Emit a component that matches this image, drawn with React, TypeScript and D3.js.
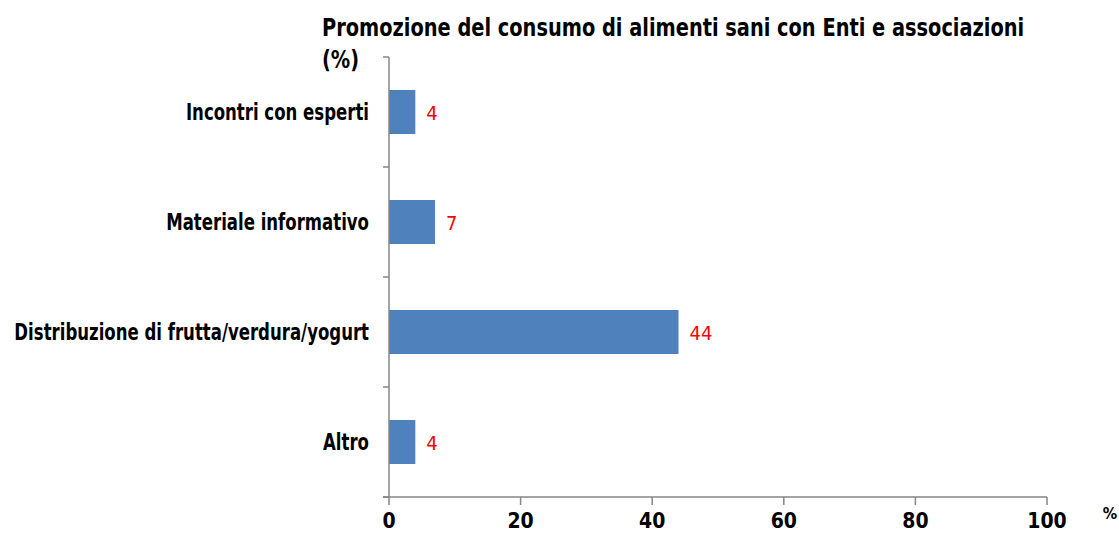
import React from "react";
import * as d3 from "d3";

const categories = [
  "Incontri con esperti",
  "Materiale informativo",
  "Distribuzione di frutta/verdura/yogurt",
  "Altro",
];
const values = [4, 7, 44, 4];
const xTicks = [0, 20, 40, 60, 80, 100];
const titleLines = ["Promozione del consumo di alimenti sani con Enti e associazioni", "(%)"];
const unitLabel = "%";

const W = 1119;
const H = 540;
const FONT = "'DejaVu Sans', sans-serif";
const SX_TITLE = 0.775;
const SX_LABEL = 0.72;

export default function App() {
  const x = d3.scaleLinear().domain([0, 100]).range([389, 1047]);
  const y = d3
    .scaleBand<string>()
    .domain(categories)
    .range([57, 497])
    .paddingInner(0.6)
    .paddingOuter(0.3);
  const step = y.step();
  const boundaries = d3.range(categories.length + 1).map((i) => 57 + i * step);
  const axisColor = "#868686";

  return (
    <svg
      width={W}
      height={H}
      style={{ position: "absolute", left: 0, top: 0, background: "#fff" }}
    >
      <g fontFamily={FONT} fontWeight="bold" fill="#000" fontSize={25}>
        <text transform={`translate(322,36) scale(${SX_TITLE},1)`}>{titleLines[0]}</text>
        <text transform={`translate(322,68) scale(${SX_TITLE},1)`}>{titleLines[1]}</text>
      </g>

      {categories.map((c, i) => {
        const yc = (y(c) as number) + y.bandwidth() / 2;
        return (
          <g key={c}>
            <rect
              x={x(0)}
              y={y(c)}
              width={x(values[i]) - x(0)}
              height={y.bandwidth()}
              fill="#4F81BD"
            />
            <text
              transform={`translate(369,${yc + 8}) scale(${SX_LABEL},1)`}
              textAnchor="end"
              fontFamily={FONT}
              fontWeight="bold"
              fontSize={23}
            >
              {c}
            </text>
            <text
              transform={`translate(${x(values[i]) + 11},${yc + 7.5}) scale(0.9,1)`}
              fontFamily={FONT}
              fontSize={20}
              fill="#FF0000"
            >
              {values[i]}
            </text>
          </g>
        );
      })}

      {/* y axis */}
      <line x1={x(0)} x2={x(0)} y1={57} y2={497} stroke={axisColor} strokeWidth={1.5} />
      {boundaries.map((b, i) => (
        <line key={i} x1={x(0) - 6} x2={x(0)} y1={b} y2={b} stroke={axisColor} strokeWidth={1.5} />
      ))}

      {/* x axis */}
      <line x1={x(0) - 6} x2={x(100)} y1={497} y2={497} stroke={axisColor} strokeWidth={1.5} />
      {xTicks.map((t) => (
        <g key={t}>
          <line x1={x(t)} x2={x(t)} y1={497} y2={505} stroke={axisColor} strokeWidth={1.5} />
          <text
            transform={`translate(${x(t)},528) scale(0.9,1)`}
            textAnchor="middle"
            fontFamily={FONT}
            fontWeight="bold"
            fontSize={21}
          >
            {t}
          </text>
        </g>
      ))}
      <text
        transform={`translate(1110,519) scale(0.9,1)`}
        textAnchor="middle"
        fontFamily={FONT}
        fontWeight="bold"
        fontSize={16}
      >
        {unitLabel}
      </text>
    </svg>
  );
}
